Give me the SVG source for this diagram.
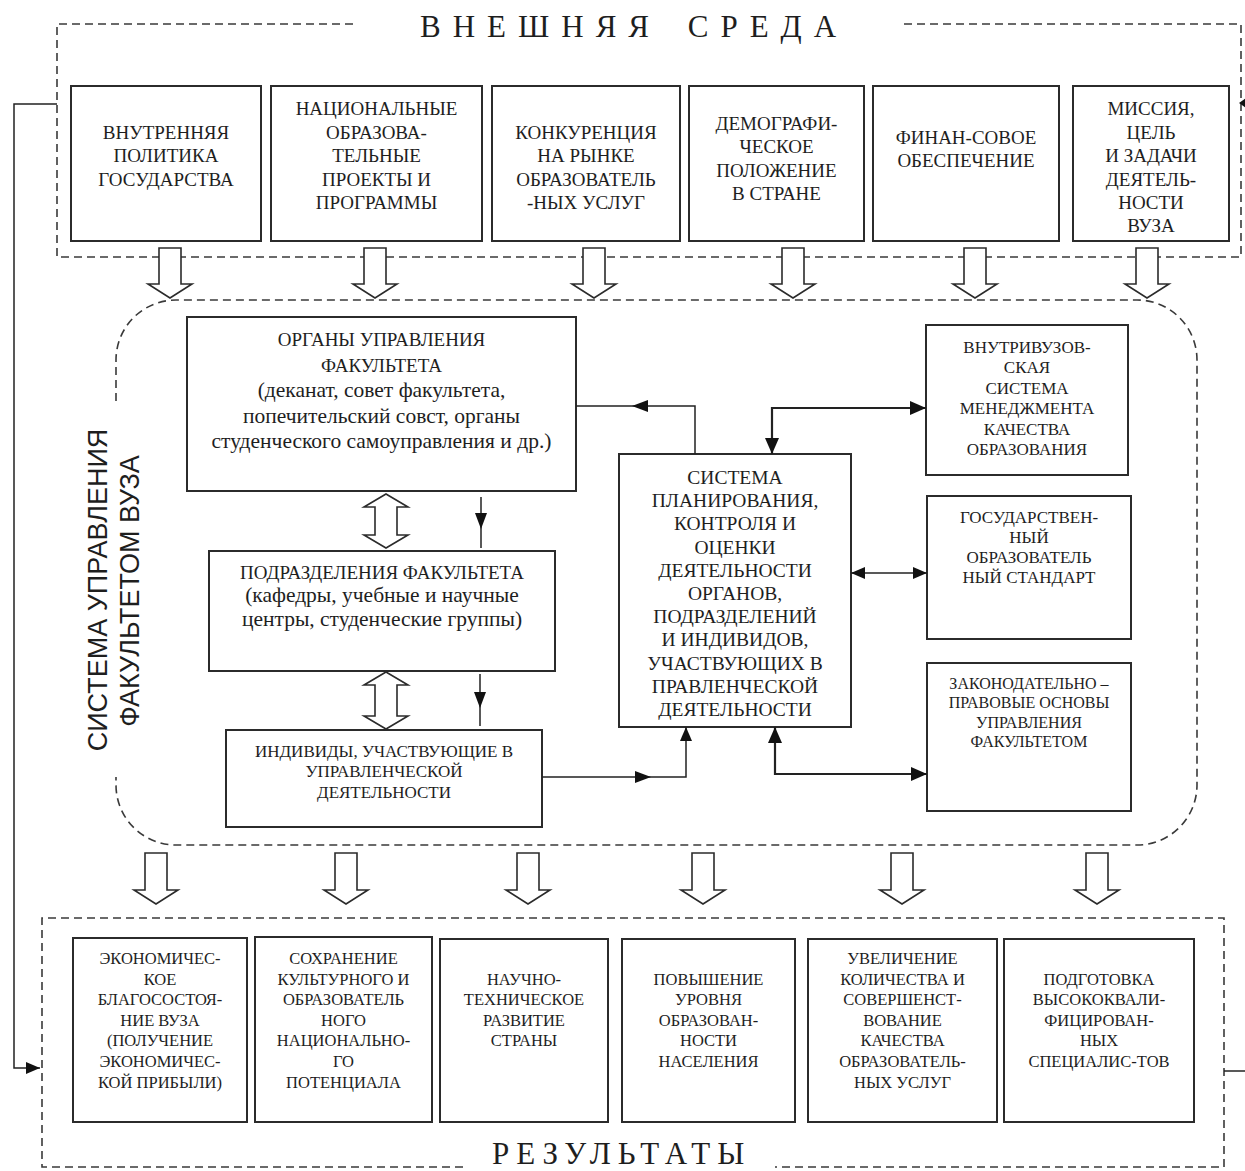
<svg xmlns="http://www.w3.org/2000/svg" width="1245" height="1171" viewBox="0 0 1245 1171">
<defs>
<style>
.bg{fill:#fff}
.box{fill:#fff;stroke:#2b2b2b;stroke-width:2}
.dash{fill:none;stroke:#3a3a3a;stroke-width:1.6;stroke-dasharray:8 5}
.t{font-family:"Liberation Serif","Times New Roman",serif;fill:#1e1e1e;text-anchor:middle}
.t19{font-size:19px}
.t195{font-size:19.5px}
.lc{font-size:21.5px}
.t17{font-size:17px}
.t16{font-size:16px}
.t165{font-size:16.5px}
.title{font-family:"Liberation Serif","Times New Roman",serif;fill:#1e1e1e;font-size:31px}
.side{font-family:"Liberation Sans",Arial,sans-serif;fill:#1e1e1e;font-size:27px;text-anchor:middle}
.harrow{fill:#fff;stroke:#2b2b2b;stroke-width:1.6;stroke-linejoin:miter}
.ln{fill:none;stroke:#222;stroke-width:1.5}
.lnb{fill:none;stroke:#222;stroke-width:2.2}
.head{fill:#111}
</style>
<marker id="ah" viewBox="0 0 14 12" refX="14" refY="6" markerWidth="14" markerHeight="12" markerUnits="userSpaceOnUse" orient="auto-start-reverse">
<path d="M0,0 L14,6 L0,12 Z" fill="#111"/>
</marker>
<marker id="ahb" viewBox="0 0 16 14" refX="16" refY="7" markerWidth="16" markerHeight="14" markerUnits="userSpaceOnUse" orient="auto-start-reverse">
<path d="M0,0 L16,7 L0,14 Z" fill="#111"/>
</marker>
</defs>
<rect class="bg" x="0" y="0" width="1245" height="1171"/>

<g id="external-environment">
<path class="dash" d="M353,24 L57,24 L57,257 L1241,257 L1241,24 L903,24"/>
<text class="title" x="420" y="37" letter-spacing="12" word-spacing="7">ВНЕШНЯЯ СРЕДА</text>
</g>

<g id="ext-1">
<rect class="box" x="71" y="86" width="190" height="155"/>
<text class="t t19"><tspan x="166" y="138.5">ВНУТРЕННЯЯ</tspan><tspan x="166" y="162">ПОЛИТИКА</tspan><tspan x="166" y="185.5">ГОСУДАРСТВА</tspan></text>
</g>
<g id="ext-2">
<rect class="box" x="271" y="86" width="211" height="155"/>
<text class="t t19"><tspan x="376.5" y="115">НАЦИОНАЛЬНЫЕ</tspan><tspan x="376.5" y="138.5">ОБРАЗОВА-</tspan><tspan x="376.5" y="162">ТЕЛЬНЫЕ</tspan><tspan x="376.5" y="185.5">ПРОЕКТЫ И</tspan><tspan x="376.5" y="209">ПРОГРАММЫ</tspan></text>
</g>
<g id="ext-3">
<rect class="box" x="492" y="86" width="188" height="155"/>
<text class="t t19"><tspan x="586" y="138.5">КОНКУРЕНЦИЯ</tspan><tspan x="586" y="162">НА РЫНКЕ</tspan><tspan x="586" y="185.5">ОБРАЗОВАТЕЛЬ</tspan><tspan x="586" y="209">-НЫХ УСЛУГ</tspan></text>
</g>
<g id="ext-4">
<rect class="box" x="689" y="86" width="175" height="155"/>
<text class="t t19"><tspan x="776.5" y="129.5">ДЕМОГРАФИ-</tspan><tspan x="776.5" y="153">ЧЕСКОЕ</tspan><tspan x="776.5" y="176.5">ПОЛОЖЕНИЕ</tspan><tspan x="776.5" y="200">В СТРАНЕ</tspan></text>
</g>
<g id="ext-5">
<rect class="box" x="873" y="86" width="186" height="155"/>
<text class="t t19"><tspan x="966" y="143.5">ФИНАН-СОВОЕ</tspan><tspan x="966" y="167">ОБЕСПЕЧЕНИЕ</tspan></text>
</g>
<g id="ext-6">
<rect class="box" x="1073" y="86" width="156" height="155"/>
<text class="t t19"><tspan x="1151" y="115">МИССИЯ,</tspan><tspan x="1151" y="138.5">ЦЕЛЬ</tspan><tspan x="1151" y="162">И ЗАДАЧИ</tspan><tspan x="1151" y="185.5">ДЕЯТЕЛЬ-</tspan><tspan x="1151" y="209">НОСТИ</tspan><tspan x="1151" y="232">ВУЗА</tspan></text>
</g>

<g id="faculty-system">
<path class="dash" d="M116,401 L116,360 A60,60 0 0 1 176,300 L1137,300 A60,60 0 0 1 1197,360 L1197,785 A60,60 0 0 1 1137,845 L176,845 A60,60 0 0 1 116,785 L116,777"/>
<text class="side" transform="translate(107,590) rotate(-90)">СИСТЕМА УПРАВЛЕНИЯ</text>
<text class="side" transform="translate(139,591) rotate(-90)">ФАКУЛЬТЕТОМ ВУЗА</text>
</g>

<g id="faculty-bodies">
<rect class="box" x="187" y="317" width="389" height="174"/>
<text class="t t19"><tspan x="381.5" y="346">ОРГАНЫ УПРАВЛЕНИЯ</tspan><tspan x="381.5" y="371.5">ФАКУЛЬТЕТА</tspan><tspan class="lc" x="381.5" y="397">(деканат, совет факультета,</tspan><tspan class="lc" x="381.5" y="422.5">попечительский совст, органы</tspan><tspan class="lc" x="381.5" y="448">студенческого самоуправления и др.)</tspan></text>
</g>
<g id="faculty-units">
<rect class="box" x="209" y="551" width="346" height="120"/>
<text class="t t19"><tspan x="382" y="578.5">ПОДРАЗДЕЛЕНИЯ ФАКУЛЬТЕТА</tspan><tspan class="lc" x="382" y="602">(кафедры, учебные и научные</tspan><tspan class="lc" x="382" y="625.5">центры, студенческие группы)</tspan></text>
</g>
<g id="individuals">
<rect class="box" x="226" y="730" width="316" height="97"/>
<text class="t t17"><tspan x="384" y="756.5">ИНДИВИДЫ, УЧАСТВУЮЩИЕ В</tspan><tspan x="384" y="777">УПРАВЛЕНЧЕСКОЙ</tspan><tspan x="384" y="797.5">ДЕЯТЕЛЬНОСТИ</tspan></text>
</g>
<g id="planning-system">
<rect class="box" x="619" y="454" width="232" height="273"/>
<text class="t t195"><tspan x="735" y="484">СИСТЕМА</tspan><tspan x="735" y="507.2">ПЛАНИРОВАНИЯ,</tspan><tspan x="735" y="530.4">КОНТРОЛЯ И</tspan><tspan x="735" y="553.6">ОЦЕНКИ</tspan><tspan x="735" y="576.8">ДЕЯТЕЛЬНОСТИ</tspan><tspan x="735" y="600">ОРГАНОВ,</tspan><tspan x="735" y="623.2">ПОДРАЗДЕЛЕНИЙ</tspan><tspan x="735" y="646.4">И ИНДИВИДОВ,</tspan><tspan x="735" y="669.6">УЧАСТВУЮЩИХ В</tspan><tspan x="735" y="692.8">ПРАВЛЕНЧЕСКОЙ</tspan><tspan x="735" y="716">ДЕЯТЕЛЬНОСТИ</tspan></text>
</g>
<g id="quality-management">
<rect class="box" x="926" y="325" width="202" height="150"/>
<text class="t t17"><tspan x="1027" y="352.5">ВНУТРИВУЗОВ-</tspan><tspan x="1027" y="373">СКАЯ</tspan><tspan x="1027" y="393.5">СИСТЕМА</tspan><tspan x="1027" y="414">МЕНЕДЖМЕНТА</tspan><tspan x="1027" y="434.5">КАЧЕСТВА</tspan><tspan x="1027" y="455">ОБРАЗОВАНИЯ</tspan></text>
</g>
<g id="state-standard">
<rect class="box" x="927" y="496" width="204" height="143"/>
<text class="t t17"><tspan x="1029" y="522.5">ГОСУДАРСТВЕН-</tspan><tspan x="1029" y="542.5">НЫЙ</tspan><tspan x="1029" y="562.5">ОБРАЗОВАТЕЛЬ</tspan><tspan x="1029" y="582.5">НЫЙ СТАНДАРТ</tspan></text>
</g>
<g id="legal-basis">
<rect class="box" x="927" y="663" width="204" height="148"/>
<text class="t t16"><tspan x="1029" y="688.5">ЗАКОНОДАТЕЛЬНО –</tspan><tspan x="1029" y="708">ПРАВОВЫЕ ОСНОВЫ</tspan><tspan x="1029" y="727.5">УПРАВЛЕНИЯ</tspan><tspan x="1029" y="747">ФАКУЛЬТЕТОМ</tspan></text>
</g>

<g id="results">
<path class="dash" d="M463,1167 L42,1167 L42,918 L1224,918 L1224,1167 L775,1167"/>
<text class="title" x="492" y="1164" letter-spacing="7">РЕЗУЛЬТАТЫ</text>
</g>
<g id="res-1">
<rect class="box" x="73" y="938" width="174" height="184"/>
<text class="t t165"><tspan x="160" y="964">ЭКОНОМИЧЕС-</tspan><tspan x="160" y="984.6">КОЕ</tspan><tspan x="160" y="1005.2">БЛАГОСОСТОЯ-</tspan><tspan x="160" y="1025.8">НИЕ ВУЗА</tspan><tspan x="160" y="1046.4">(ПОЛУЧЕНИЕ</tspan><tspan x="160" y="1067">ЭКОНОМИЧЕС-</tspan><tspan x="160" y="1087.6">КОЙ ПРИБЫЛИ)</tspan></text>
</g>
<g id="res-2">
<rect class="box" x="255" y="937" width="177" height="185"/>
<text class="t t165"><tspan x="343.5" y="964">СОХРАНЕНИЕ</tspan><tspan x="343.5" y="984.6">КУЛЬТУРНОГО И</tspan><tspan x="343.5" y="1005.2">ОБРАЗОВАТЕЛЬ</tspan><tspan x="343.5" y="1025.8">НОГО</tspan><tspan x="343.5" y="1046.4">НАЦИОНАЛЬНО-</tspan><tspan x="343.5" y="1067">ГО</tspan><tspan x="343.5" y="1087.6">ПОТЕНЦИАЛА</tspan></text>
</g>
<g id="res-3">
<rect class="box" x="440" y="939" width="168" height="183"/>
<text class="t t165"><tspan x="524" y="984.6">НАУЧНО-</tspan><tspan x="524" y="1005.2">ТЕХНИЧЕСКОЕ</tspan><tspan x="524" y="1025.8">РАЗВИТИЕ</tspan><tspan x="524" y="1046.4">СТРАНЫ</tspan></text>
</g>
<g id="res-4">
<rect class="box" x="622" y="939" width="173" height="183"/>
<text class="t t165"><tspan x="708.5" y="984.6">ПОВЫШЕНИЕ</tspan><tspan x="708.5" y="1005.2">УРОВНЯ</tspan><tspan x="708.5" y="1025.8">ОБРАЗОВАН-</tspan><tspan x="708.5" y="1046.4">НОСТИ</tspan><tspan x="708.5" y="1067">НАСЕЛЕНИЯ</tspan></text>
</g>
<g id="res-5">
<rect class="box" x="808" y="939" width="189" height="183"/>
<text class="t t165"><tspan x="902.5" y="964">УВЕЛИЧЕНИЕ</tspan><tspan x="902.5" y="984.6">КОЛИЧЕСТВА И</tspan><tspan x="902.5" y="1005.2">СОВЕРШЕНСТ-</tspan><tspan x="902.5" y="1025.8">ВОВАНИЕ</tspan><tspan x="902.5" y="1046.4">КАЧЕСТВА</tspan><tspan x="902.5" y="1067">ОБРАЗОВАТЕЛЬ-</tspan><tspan x="902.5" y="1087.6">НЫХ УСЛУГ</tspan></text>
</g>
<g id="res-6">
<rect class="box" x="1004" y="939" width="190" height="183"/>
<text class="t t165"><tspan x="1099" y="984.6">ПОДГОТОВКА</tspan><tspan x="1099" y="1005.2">ВЫСОКОКВАЛИ-</tspan><tspan x="1099" y="1025.8">ФИЦИРОВАН-</tspan><tspan x="1099" y="1046.4">НЫХ</tspan><tspan x="1099" y="1067">СПЕЦИАЛИС-ТОВ</tspan></text>
</g>

<g id="connectors">
<!-- hollow arrows: external environment to faculty system -->
<polygon class="harrow" points="159,248 181,248 181,284 192,284 170,298 148,284 159,284"/>
<polygon class="harrow" points="364,248 386,248 386,284 397,284 375,298 353,284 364,284"/>
<polygon class="harrow" points="583,248 605,248 605,284 616,284 594,298 572,284 583,284"/>
<polygon class="harrow" points="782,248 804,248 804,284 815,284 793,298 771,284 782,284"/>
<polygon class="harrow" points="964,248 986,248 986,284 997,284 975,298 953,284 964,284"/>
<polygon class="harrow" points="1136,248 1158,248 1158,284 1169,284 1147,298 1125,284 1136,284"/>
<!-- hollow arrows: faculty system to results -->
<polygon class="harrow" points="145,853 167,853 167,890 178,890 156,904 134,890 145,890"/>
<polygon class="harrow" points="335,853 357,853 357,890 368,890 346,904 324,890 335,890"/>
<polygon class="harrow" points="517,853 539,853 539,890 550,890 528,904 506,890 517,890"/>
<polygon class="harrow" points="692,853 714,853 714,890 725,890 703,904 681,890 692,890"/>
<polygon class="harrow" points="891,853 913,853 913,890 924,890 902,904 880,890 891,890"/>
<polygon class="harrow" points="1086,853 1108,853 1108,890 1119,890 1097,904 1075,890 1086,890"/>
<!-- hollow double arrows -->
<polygon class="harrow" points="386,494 408,507 397,507 397,535 408,535 386,548 364,535 375,535 375,507 364,507"/>
<polygon class="harrow" points="386,672 408,685 397,685 397,716 408,716 386,729 364,716 375,716 375,685 364,685"/>
<!-- thin down arrows -->
<path class="ln" d="M481,497 L481,548"/>
<polygon class="head" points="475,513 487,513 481,529"/>
<path class="ln" d="M480,674 L480,726"/>
<polygon class="head" points="474,692 486,692 480,708"/>
<!-- planning system to faculty bodies -->
<path class="ln" d="M695,454 L695,406 L576,406"/>
<polygon class="head" points="632,406 648,400 648,412"/>
<!-- planning system <-> quality management -->
<path class="lnb" d="M772,454 L772,408 L926,408" marker-start="url(#ahb)" marker-end="url(#ahb)"/>
<!-- planning system <-> state standard -->
<path class="ln" d="M851,573 L927,573" marker-start="url(#ah)" marker-end="url(#ah)"/>
<!-- planning system <-> legal basis -->
<path class="lnb" d="M775,727 L775,774 L927,774" marker-start="url(#ahb)" marker-end="url(#ahb)"/>
<!-- individuals to planning system -->
<path class="ln" d="M542,777 L686,777 L686,727" marker-end="url(#ah)"/>
<polygon class="head" points="651,777 635,771 635,783"/>
<!-- feedback: external environment to results (left) -->
<path class="ln" d="M57,104 L14,104 L14,1068 L40,1068" marker-end="url(#ah)"/>
<!-- feedback: results to external environment (right, continues beyond edge) -->
<path class="ln" d="M1224,1071 L1245,1071"/>
<polygon class="head" points="1239,103 1246,98 1246,108"/>
</g>
</svg>
